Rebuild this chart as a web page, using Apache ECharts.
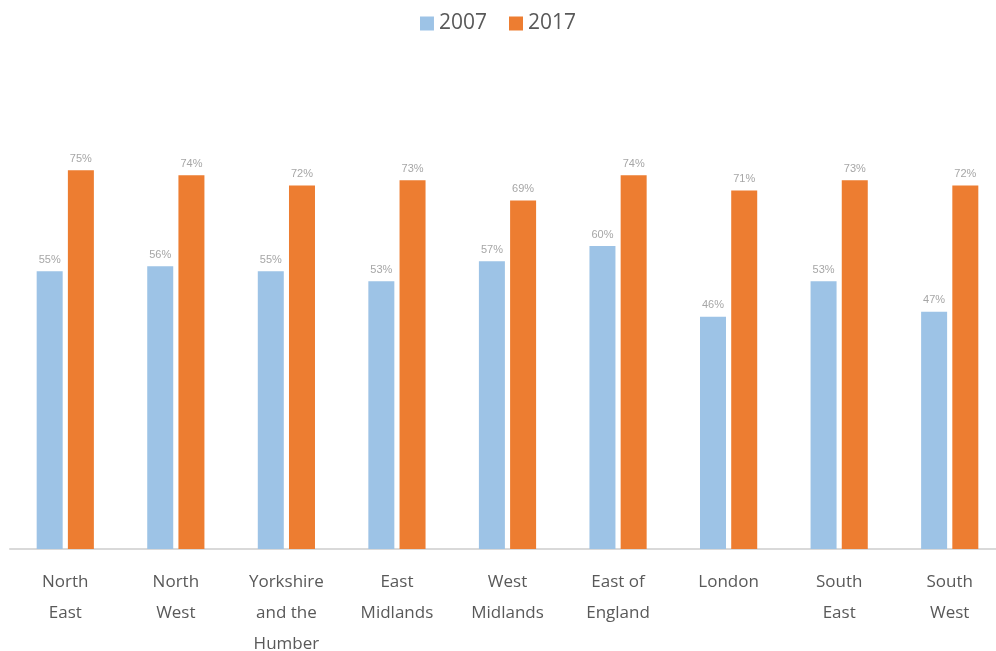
<!DOCTYPE html>
<html><head><meta charset="utf-8">
<script src="https://cdn.jsdelivr.net/npm/echarts@6/dist/echarts.min.js"></script>
<style>html,body{margin:0;padding:0;background:#fff}#c{width:996px;height:651px}</style>
</head><body><div id="c"></div>
<script>
const categories = ["North\nEast","North\nWest","Yorkshire\nand the\nHumber","East\nMidlands","West\nMidlands","East of\nEngland","London","South\nEast","South\nWest"];
const values2007 = [55,56,55,53,57,60,46,53,47];
const values2017 = [75,74,72,73,69,74,71,73,72];
const seriesNames = ["2007","2017"];

const chart = echarts.init(document.getElementById('c'));
const lbl = {show:true,position:'top',distance:6,formatter:'{c}%',color:'#a6a6a6',fontSize:11,fontFamily:'Liberation Sans'};
chart.setOption({
  animation:false,
  legend:{top:8,left:'center',itemWidth:14,itemHeight:14,itemGap:22,icon:'rect',
    textStyle:{fontSize:21,color:'#595959',fontFamily:'Open Sans'},data:seriesNames},
  grid:{left:10,right:-9,top:44,bottom:102,outerBoundsMode:'none',containLabel:false},
  xAxis:{type:'category',data:categories,
    axisLine:{lineStyle:{color:'#d9d9d9',width:2}},axisTick:{show:false},
    axisLabel:{margin:18,fontSize:17,lineHeight:31,color:'#595959',fontFamily:'Open Sans',interval:0}},
  yAxis:{type:'value',min:0,max:100,show:false,splitLine:{show:false}},
  series:[
    {name:seriesNames[0],type:'bar',data:values2007,barWidth:26,barGap:'20%',itemStyle:{color:'#9DC3E6'},label:lbl},
    {name:seriesNames[1],type:'bar',data:values2017,barWidth:26,barGap:'20%',itemStyle:{color:'#ED7D31'},label:lbl}
  ]
});
</script></body></html>
